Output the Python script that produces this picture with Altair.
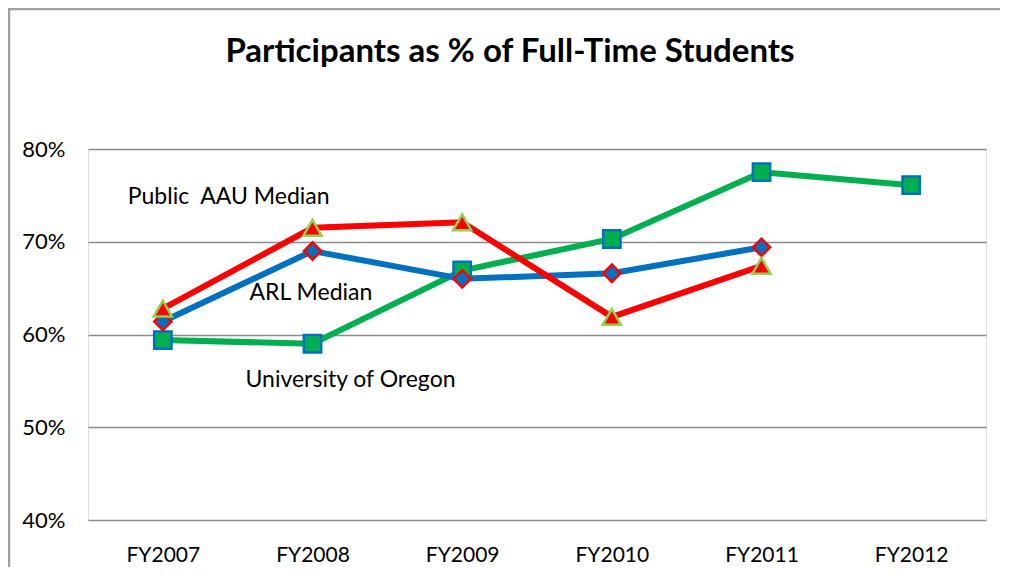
import altair as alt
import pandas as pd

# ---- data ----
years = ["FY2007", "FY2008", "FY2009", "FY2010", "FY2011", "FY2012"]
series_names = ["University of Oregon", "ARL Median", "Public  AAU Median"]
uo_values = [59.4, 59.0, 66.9, 70.3, 77.5, 76.1]
arl_values = [61.4, 69.0, 66.0, 66.6, 69.4, None]
aau_values = [62.8, 71.5, 72.1, 61.9, 67.4, None]
y_ticks = [40, 50, 60, 70, 80]
title_text = "Participants as % of Full-Time Students"

label_texts = ["Public\u00a0 AAU Median", "ARL Median", "University of Oregon"]
label_years = ["FY2007", "FY2008", "FY2008"]
label_values = [74.8, 64.5, 55.1]
label_dx = [-35, -63, -67]

rows = []
for name, vals in zip(series_names, [uo_values, arl_values, aau_values]):
    for yr, v in zip(years, vals):
        if v is not None:
            rows.append({"year": yr, "value": v, "series": name})
df = pd.DataFrame(rows)

lab_df = pd.DataFrame({"text": label_texts, "year": label_years,
                       "value": label_values, "dx": label_dx})

FONT = "Lato"
W, H = 898, 371

line_colors = {"University of Oregon": "#00B050", "ARL Median": "#0070C0",
               "Public  AAU Median": "#FF0000"}
marker_style = {
    "University of Oregon": dict(shape="square", fill="#00B050", stroke="#0070C0", size=300),
    "ARL Median": dict(shape="diamond", fill="#0070C0", stroke="#FF0000", size=300),
    "Public  AAU Median": dict(shape="triangle-up", fill="#FF0000", stroke="#92D050", size=330),
}

xscale = alt.Scale(type="point", domain=years, padding=0.5)
yscale = alt.Scale(domain=[40, 80], nice=False, zero=False)

xenc = alt.X("year:N", scale=xscale, sort=years,
             axis=alt.Axis(title=None, labelAngle=0, domain=False, ticks=False,
                           labelFont=FONT, labelFontSize=21, labelColor="#000",
                           labelPadding=24, grid=False))
yenc = alt.Y("value:Q", scale=yscale,
             axis=alt.Axis(title=None, values=y_ticks, labelExpr="datum.value + '%'",
                           domain=False, ticks=False, grid=True, gridColor="#8c8c8c",
                           gridWidth=1.5, labelFont=FONT, labelFontSize=22,
                           labelColor="#000", labelPadding=23))

layers = []
# chart-area border (top and left edges visible in the reference)
one = pd.DataFrame({"a": [0]})
layers.append(alt.Chart(one).mark_rule(stroke="#a0a0a0", strokeWidth=2.5).encode(
    x=alt.value(-80), x2=alt.value(W + 14), y=alt.value(-140)))
layers.append(alt.Chart(one).mark_rule(stroke="#a0a0a0", strokeWidth=2.5).encode(
    x=alt.value(-79), y=alt.value(-141), y2=alt.value(H + 47)))

# title as text
layers.append(alt.Chart(pd.DataFrame({"t": [title_text]})).mark_text(
    font=FONT, fontSize=33, fontWeight="bold", color="#000", align="center",
    baseline="alphabetic"
).encode(x=alt.value(422), y=alt.value(-87), text="t:N"))

for name in series_names:
    sub = df[df.series == name]
    base = alt.Chart(sub).encode(x=xenc, y=yenc)
    layers.append(base.mark_line(color=line_colors[name], strokeWidth=6))
for name in series_names:
    sub = df[df.series == name]
    base = alt.Chart(sub).encode(x=xenc, y=yenc)
    st = marker_style[name]
    layers.append(base.mark_point(shape=st["shape"], filled=True, fill=st["fill"],
                                  stroke=st["stroke"], strokeWidth=2.5, size=st["size"],
                                  opacity=1))

for i in range(len(label_texts)):
    sub = lab_df.iloc[[i]]
    layers.append(alt.Chart(sub).mark_text(
        align="left", baseline="middle", font=FONT, fontSize=23, color="#000",
        dx=int(label_dx[i])
    ).encode(x=xenc, y=yenc, text="text:N"))

chart = alt.layer(*layers).properties(
    width=W, height=H,
    autosize=alt.AutoSizeParams(type="none"),
    padding={"left": 80, "top": 141, "right": 14, "bottom": 47},
).configure_view(stroke=None).configure(background="white")

chart.save("out.html", embed_options={"renderer": "svg", "actions": False})
